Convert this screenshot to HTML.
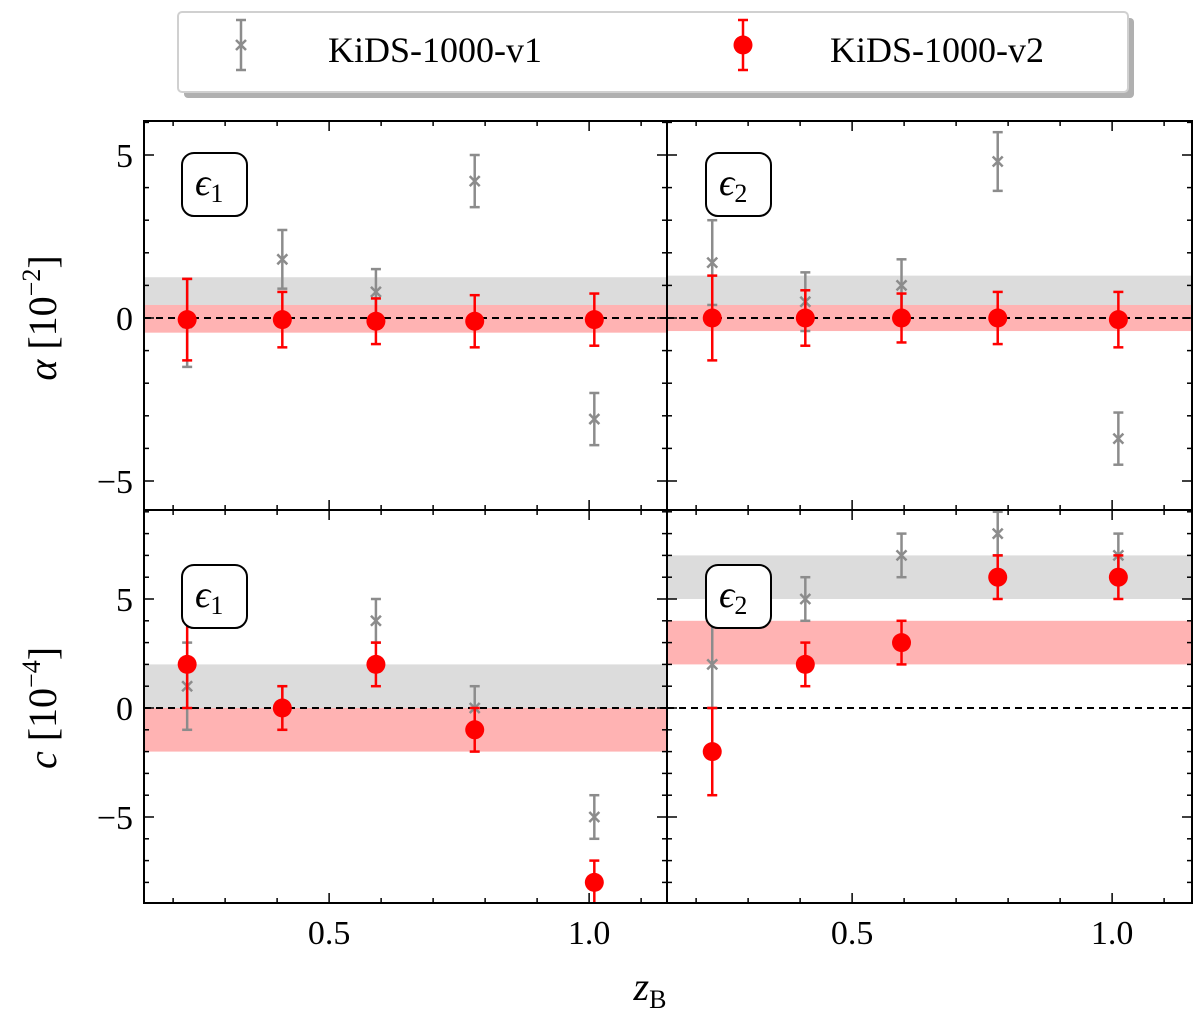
<!DOCTYPE html>
<html><head><meta charset="utf-8"><style>
body{margin:0;background:#fff}
svg{font-family:"Liberation Serif","DejaVu Serif",serif}
</style></head><body>
<svg id="chart" width="1200" height="1015" viewBox="0 0 1200 1015" xmlns="http://www.w3.org/2000/svg"></svg>
<script>
// x positions of the redshift bins
const zLeft = [0.227, 0.41, 0.59, 0.78, 1.01];
const zRight = [0.231, 0.41, 0.595, 0.78, 1.012];
// alpha, e1
const aE1V1 = [-0.15, 1.8, 0.8, 4.2, -3.1];
const aE1V1Err = [1.35, 0.9, 0.7, 0.8, 0.8];
const aE1V2 = [-0.05, -0.05, -0.1, -0.1, -0.05];
const aE1V2Err = [1.25, 0.85, 0.7, 0.8, 0.8];
const aE1Bands = [[0.4, 1.25], [-0.45, 0.4]];
// alpha, e2
const aE2V1 = [1.7, 0.5, 1.0, 4.8, -3.7];
const aE2V1Err = [1.3, 0.9, 0.8, 0.9, 0.8];
const aE2V2 = [0.0, 0.0, 0.0, 0.0, -0.05];
const aE2V2Err = [1.3, 0.85, 0.75, 0.8, 0.85];
const aE2Bands = [[0.4, 1.3], [-0.4, 0.4]];
// c, e1
const cE1V1 = [1, 0, 4, 0, -5];
const cE1V1Err = [2, 1, 1, 1, 1];
const cE1V2 = [2, 0, 2, -1, -8];
const cE1V2Err = [2, 1, 1, 1, 1];
const cE1Bands = [[0, 2], [-2, 0]];
// c, e2
const cE2V1 = [2, 5, 7, 8, 7];
const cE2V1Err = [2, 1, 1, 1, 1];
const cE2V2 = [-2, 2, 3, 6, 6];
const cE2V2Err = [2, 1, 1, 1, 1];
const cE2Bands = [[5, 7], [2, 4]];
const xTicks = [0.5, 1.0];
const xTickLabels = ["0.5", "1.0"];
const yTicks = [-5, 0, 5];
const yTickLabels = ["\u22125", "0", "5"];

const svg = document.getElementById('chart');
const NS = 'http://www.w3.org/2000/svg';
function mk(tag, attrs, parent) {
  const e = document.createElementNS(NS, tag);
  for (const k in attrs) e.setAttribute(k, attrs[k]);
  (parent || svg).appendChild(e);
  return e;
}
const xScaleFor = (x0) => (v) => x0 + (v - 0.144) * 520;
const yTop = (v) => 318 - v * 32.6;
const yBot = (v) => 708 - v * 21.8;

const panels = [
  {name:'alpha-e1', x0:144, x1:667, y0:121, y1:510, ys:yTop, lo:-6, hi:6, z:zLeft, v1:aE1V1, e1:aE1V1Err, v2:aE1V2, e2:aE1V2Err, bands:aE1Bands, lab:'1', box:[182,153], ylab:true, xlab:false},
  {name:'alpha-e2', x0:667, x1:1192, y0:121, y1:510, ys:yTop, lo:-6, hi:6, z:zRight, v1:aE2V1, e1:aE2V1Err, v2:aE2V2, e2:aE2V2Err, bands:aE2Bands, lab:'2', box:[706,153], ylab:false, xlab:false},
  {name:'c-e1', x0:144, x1:667, y0:510, y1:903, ys:yBot, lo:-9, hi:9, z:zLeft, v1:cE1V1, e1:cE1V1Err, v2:cE1V2, e2:cE1V2Err, bands:cE1Bands, lab:'1', box:[182,565], ylab:true, xlab:true},
  {name:'c-e2', x0:667, x1:1192, y0:510, y1:903, ys:yBot, lo:-9, hi:9, z:zRight, v1:cE2V1, e1:cE2V1Err, v2:cE2V2, e2:cE2V2Err, bands:cE2Bands, lab:'2', box:[706,565], ylab:false, xlab:true}
];

panels.forEach(p => {
  const g = mk('g', {});
  
  
  const xs = xScaleFor(p.x0);
  const cp = mk('clipPath', {id:'cp-' + p.name}, g);
  mk('rect', {x:p.x0, y:p.y0, width:p.x1 - p.x0, height:p.y1 - p.y0}, cp);
  const inner = mk('g', {'clip-path':'url(#cp-' + p.name + ')'}, g);
  const bcol = ['#dcdcdc', '#ffb3b3'];
  p.bands.forEach((b, i) => {
    const r = mk('rect', {x:p.x0, y:p.ys(b[1]), width:p.x1 - p.x0, height:p.ys(b[0]) - p.ys(b[1]), fill:bcol[i]}, inner);
    
    
  });
  const zl = mk('line', {x1:p.x0, x2:p.x1, y1:p.ys(0), y2:p.ys(0), stroke:'#000', 'stroke-width':2, 'stroke-dasharray':'7,5'}, inner);
  
  
  p.z.forEach((z, i) => {
    const x = xs(z), y = p.ys(p.v1[i]), yt = p.ys(p.v1[i] + p.e1[i]), yb = p.ys(p.v1[i] - p.e1[i]);
    const pg = mk('g', {stroke:'#8c8c8c', 'stroke-width':2.5}, inner);
    
    
    mk('line', {x1:x, x2:x, y1:yt, y2:yb}, pg);
    mk('line', {x1:x - 5, x2:x + 5, y1:yt, y2:yt}, pg);
    mk('line', {x1:x - 5, x2:x + 5, y1:yb, y2:yb}, pg);
    mk('path', {d:`M${x-5},${y-5}L${x+5},${y+5}M${x-5},${y+5}L${x+5},${y-5}`}, pg);
  });
  p.z.forEach((z, i) => {
    const x = xs(z), y = p.ys(p.v2[i]), yt = p.ys(p.v2[i] + p.e2[i]), yb = p.ys(p.v2[i] - p.e2[i]);
    const pg = mk('g', {stroke:'#ff0000', 'stroke-width':2.5}, inner);
    
    
    mk('line', {x1:x, x2:x, y1:yt, y2:yb}, pg);
    mk('line', {x1:x - 5, x2:x + 5, y1:yt, y2:yt}, pg);
    mk('line', {x1:x - 5, x2:x + 5, y1:yb, y2:yb}, pg);
    mk('circle', {cx:x, cy:y, r:9.5, fill:'#ff0000', stroke:'none'}, pg);
  });
  const tg = mk('g', {stroke:'#000', 'stroke-width':1.5}, g);
  for (let k = 1; k <= 11; k++) {
    const v = k / 10;
    const x = xs(v);
    if (x <= p.x0 || x >= p.x1) continue;
    const major = xTicks.some(t => Math.abs(t - v) < 1e-6);
    const L = major ? 10 : 5;
    mk('line', {x1:x, x2:x, y1:p.y1, y2:p.y1 - L}, tg);
    mk('line', {x1:x, x2:x, y1:p.y0, y2:p.y0 + L}, tg);
  }
  for (let v = p.lo; v <= p.hi; v++) {
    const y = p.ys(v);
    if (y <= p.y0 + 0.5 || y >= p.y1 - 0.5) continue;
    const L = (v % 5 === 0) ? 10 : 5;
    mk('line', {x1:p.x0, x2:p.x0 + L, y1:y, y2:y}, tg);
    mk('line', {x1:p.x1, x2:p.x1 - L, y1:y, y2:y}, tg);
  }
  if (p.xlab) {
    xTicks.forEach((t, i) => {
      const tx = mk('text', {x:xs(t), y:944, 'font-size':34, 'text-anchor':'middle'}, g);
      tx.textContent = xTickLabels[i];
      
      
    });
  }
  if (p.ylab) {
    yTicks.forEach((t, i) => {
      const tx = mk('text', {x:133, y:p.ys(t) + 12, 'font-size':34, 'text-anchor':'end'}, g);
      tx.textContent = yTickLabels[i];
      
      
    });
  }
  const lb = mk('g', {}, g);
  
  
  mk('rect', {x:p.box[0], y:p.box[1], width:65, height:63, rx:12, fill:'#fff', stroke:'#000', 'stroke-width':2}, lb);
  const t = mk('text', {x:p.box[0] + 13, y:p.box[1] + 42, 'font-size':38, 'font-style':'italic'}, lb);
  t.textContent = '\u03f5';
  const s = mk('tspan', {'font-size':26, dy:7, 'font-style':'normal'}, t);
  s.textContent = p.lab;
  const fr = mk('rect', {x:p.x0, y:p.y0, width:p.x1 - p.x0, height:p.y1 - p.y0, fill:'none', stroke:'#000', 'stroke-width':2}, g);
  
  
});

let t = mk('text', {x:0, y:0, 'font-size':40, 'text-anchor':'middle', transform:'translate(56,318) rotate(-90)'});


t.innerHTML = '<tspan font-style="italic">\u03b1</tspan> [10<tspan font-size="26" dy="-16">\u22122</tspan><tspan dy="16">]</tspan>';
t = mk('text', {x:0, y:0, 'font-size':40, 'text-anchor':'middle', transform:'translate(56,708) rotate(-90)'});


t.innerHTML = '<tspan font-style="italic">c</tspan> [10<tspan font-size="26" dy="-16">\u22124</tspan><tspan dy="16">]</tspan>';
t = mk('text', {x:650, y:1000, 'font-size':40, 'text-anchor':'middle'});


t.innerHTML = '<tspan font-style="italic">z</tspan><tspan font-size="26" dy="8">B</tspan>';

const lg = mk('g', {});


mk('rect', {x:184, y:18, width:950, height:80, rx:4, fill:'#b0b0b0'}, lg);
mk('rect', {x:178, y:12, width:950, height:80, rx:4, fill:'#fff', stroke:'#d0d0d0', 'stroke-width':2}, lg);
const le1 = mk('g', {stroke:'#8c8c8c', 'stroke-width':2.5}, lg);


mk('path', {d:'M241,20V70M236,20H246M236,70H246M236,40L246,50M236,50L246,40'}, le1);
let lt = mk('text', {x:328, y:62, 'font-size':36, fill:'#000', stroke:'none'}, le1);
lt.textContent = 'KiDS-1000-v1';
const le2 = mk('g', {stroke:'#ff0000', 'stroke-width':2.5}, lg);


mk('path', {d:'M743,20V70M738,20H748M738,70H748'}, le2);
mk('circle', {cx:743, cy:45, r:9.5, fill:'#ff0000', stroke:'none'}, le2);
lt = mk('text', {x:830, y:62, 'font-size':36, fill:'#000', stroke:'none'}, le2);
lt.textContent = 'KiDS-1000-v2';
</script>
</body></html>
